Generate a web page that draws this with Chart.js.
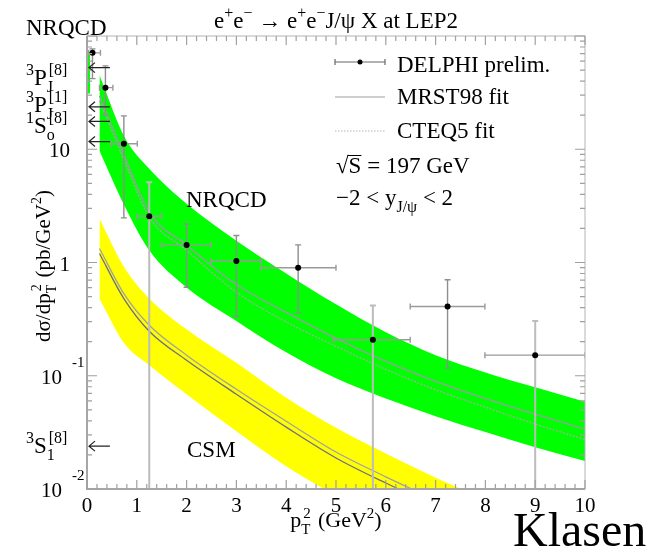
<!DOCTYPE html>
<html>
<head>
<meta charset="utf-8">
<script src="https://cdn.jsdelivr.net/npm/chart.js@4.4.1/dist/chart.umd.min.js"></script>
<style>
  html, body { margin: 0; padding: 0; background: #fff; }
  canvas { display: block; }
</style>
</head>
<body>
<canvas id="chart" width="656" height="551"></canvas>
<script>
const FONT = '"Liberation Serif", "Times New Roman", serif';

// --- DELPHI preliminary points ---
const delX   = [0.11, 0.37, 0.74, 1.25, 2.0, 3.0, 4.24, 5.74, 7.24, 9.0];
const delY   = [71, 35, 11.2, 2.56, 1.43, 1.03, 0.90, 0.208, 0.409, 0.152];
const delXLo = [0.03, 0.25, 0.48, 1.01, 1.5, 2.49, 3.49, 4.95, 6.49, 7.99];
const delXHi = [0.27, 0.52, 1.01, 1.5, 2.49, 3.5, 5.0, 6.49, 7.99, 10];
const delYLo = [42, 20, 2.48, 0.001, 0.605, 0.334, 0.357, 0.001, 0.117, 0.001];
const delYHi = [77, 54.5, 19.7, 5.1, 2.19, 1.73, 1.43, 0.418, 0.704, 0.304];

// --- theory curves (pT^2 grid) ---
const curveX  = [0.25, 0.75, 1.25, 2, 3, 4, 5, 6, 7, 8, 9, 10];
const nrqTop  = [45.3, 12.9, 6.73, 3.31, 1.56, 0.80, 0.427, 0.242, 0.152, 0.107, 0.079, 0.059];
const nrqBot  = [9.7, 3.18, 1.28, 0.603, 0.305, 0.161, 0.095, 0.063, 0.044, 0.0318, 0.0234, 0.0177];
const nrqMrst = [29.6, 8.76, 2.78, 1.43, 0.640, 0.363, 0.214, 0.134, 0.089, 0.0627, 0.0458, 0.0338];
const nrqCteq = [26.8, 7.92, 2.51, 1.28, 0.547, 0.299, 0.182, 0.114, 0.0753, 0.0528, 0.0374, 0.0274];
const csmTop  = [2.44, 0.904, 0.482, 0.257, 0.130, 0.064, 0.0348, 0.0206, 0.0126, 0.0081, 0.0053, 0.0035];
const csmBot  = [0.479, 0.193, 0.124, 0.0687, 0.0324, 0.0159, 0.0087, 0.0050, 0.0030, 0.0019, 0.0012, 0.0008];
const csmMrst = [1.33, 0.522, 0.279, 0.152, 0.076, 0.0397, 0.0212, 0.0128, 0.0080, 0.0051, 0.0033, 0.0022];
const csmCteq = [1.20, 0.472, 0.247, 0.137, 0.0687, 0.0352, 0.0188, 0.0113, 0.0071, 0.0045, 0.0030, 0.0020];

// first-bin NRQCD sliver at pT^2 ~ 0
const stripX   = [0, 0.06];
const stripTop = [69, 69];
const stripBot = [31, 31];

// NRQCD channel arrows on the left edge
const arrowVals = [52.6, 23.7, 17.6, 11.7, 0.0239];
const arrowFrom = 0.46, arrowTo = 0.04;

// axis ticks
const xTicks = [0, 1, 2, 3, 4, 5, 6, 7, 8, 9, 10];
const yDecades = [0.01, 0.1, 1, 10, 100];

const toXY = (xs, ys) => xs.map((x, i) => ({ x, y: ys[i] }));

// draw text with superscripts ('u'), subscripts ('d') and sub stacked under the next sup ('D')
function rich(ctx, parts, x, y, size, align) {
  const small = Math.round(size * 0.68);
  const items = [];
  let cx = 0, stack = null;
  for (const [t, k] of parts) {
    const fs = k === 'n' ? size : small;
    ctx.font = fs + 'px ' + FONT;
    const w = ctx.measureText(t).width;
    const dy = k === 'u' ? -0.42 * size : (k === 'n' ? 0 : 0.3 * size);
    if (k === 'D') { items.push({ t, fs, x: cx, dy }); stack = { x: cx, w }; continue; }
    if (stack && k === 'u') {
      items.push({ t, fs, x: stack.x + 2, dy });
      cx = stack.x + 2 + Math.max(w, stack.w);
      stack = null; continue;
    }
    if (stack) { cx = stack.x + stack.w; stack = null; }
    items.push({ t, fs, x: cx, dy });
    cx += w;
  }
  if (stack) cx = stack.x + stack.w;
  const x0 = align === 'center' ? x - cx / 2 : align === 'right' ? x - cx : x;
  ctx.textAlign = 'left';
  ctx.textBaseline = 'alphabetic';
  items.forEach(it => {
    ctx.font = it.fs + 'px ' + FONT;
    ctx.fillText(it.t, x0 + it.x, y + it.dy);
  });
  return cx;
}

// --- error bars, drawn just before the points ---
const errorBars = {
  id: 'errorBars',
  beforeDatasetDraw(chart, args) {
    if (args.index !== 0) return;
    const { ctx, chartArea: a, scales: { x, y } } = chart;
    ctx.save();
    ctx.beginPath();
    ctx.rect(a.left, a.top, a.right - a.left, a.bottom - a.top);
    ctx.clip();
    delX.forEach((xv, i) => {
      const px = x.getPixelForValue(xv), py = y.getPixelForValue(delY[i]);
      const xl = x.getPixelForValue(delXLo[i]), xr = x.getPixelForValue(delXHi[i]);
      const yt = y.getPixelForValue(delYHi[i]), yb = y.getPixelForValue(delYLo[i]);
      const long = delYLo[i] < y.min;
      ctx.strokeStyle = long ? '#bcbcbc' : '#8e8e8e';
      ctx.lineWidth = long ? 2 : 1.4;
      ctx.beginPath();
      ctx.moveTo(px, yt); ctx.lineTo(px, yb);
      ctx.moveTo(px - 3, yt); ctx.lineTo(px + 3, yt);
      if (!long) { ctx.moveTo(px - 3, yb); ctx.lineTo(px + 3, yb); }
      ctx.stroke();
      ctx.strokeStyle = '#9a9a9a';
      ctx.lineWidth = 1.4;
      ctx.beginPath();
      ctx.moveTo(xl, py); ctx.lineTo(xr, py);
      ctx.moveTo(xl, py - 3); ctx.lineTo(xl, py + 3);
      ctx.moveTo(xr, py - 3); ctx.lineTo(xr, py + 3);
      ctx.stroke();
    });
    ctx.restore();
  }
};

// --- ROOT-style frame, ticks and all text ---
const frame = {
  id: 'frame',
  afterDraw(chart) {
    const { ctx, chartArea: a, scales: { x, y } } = chart;
    ctx.save();

    // frame
    ctx.strokeStyle = '#b4b4b4';
    ctx.lineWidth = 1;
    ctx.strokeRect(a.left, a.top, a.right - a.left, a.bottom - a.top);
    ctx.strokeStyle = '#a6a6a6';
    ctx.lineWidth = 2;
    ctx.beginPath();
    ctx.moveTo(a.left, a.top); ctx.lineTo(a.left, a.bottom); ctx.lineTo(a.right, a.bottom);
    ctx.stroke();

    // x ticks (bottom up, top down), every 0.2
    ctx.lineWidth = 1.2;
    ctx.strokeStyle = '#a0a0a0';
    ctx.beginPath();
    for (let k = 0; k <= 50; k++) {
      const px = x.getPixelForValue(k * 0.2);
      const len = k % 5 === 0 ? 9 : 5;
      ctx.moveTo(px, a.bottom); ctx.lineTo(px, a.bottom - len);
      ctx.moveTo(px, a.top); ctx.lineTo(px, a.top + len);
    }
    // y ticks (left and right), log minors
    yDecades.forEach((d, j) => {
      for (let m = 1; m <= 9; m++) {
        const v = d * m;
        if (v > y.max * 1.0001 || (j === yDecades.length - 1 && m > 1)) continue;
        const py = y.getPixelForValue(v);
        const len = m === 1 ? 10 : 5;
        ctx.moveTo(a.left, py); ctx.lineTo(a.left + len, py);
        ctx.moveTo(a.right, py); ctx.lineTo(a.right - len, py);
      }
    });
    ctx.stroke();

    ctx.fillStyle = '#000';
    // x tick labels
    ctx.font = '21px ' + FONT;
    ctx.textAlign = 'center';
    ctx.textBaseline = 'alphabetic';
    xTicks.forEach(v => ctx.fillText(String(v), x.getPixelForValue(v), a.bottom + 23));

    // y tick labels
    yDecades.slice(0, 4).forEach(d => {
      const py = y.getPixelForValue(d);
      ctx.font = '21px ' + FONT;
      ctx.textAlign = 'right';
      if (d >= 1) {
        ctx.fillText(d === 1 ? '1' : '10', a.left - 17, py + 8);
      } else {
        ctx.fillText('10', a.left - 25, py + 8);
        ctx.font = '15px ' + FONT;
        ctx.textAlign = 'left';
        ctx.fillText('-' + Math.round(-Math.log10(d)), a.left - 15, py - 9);
      }
    });

    // axis titles
    rich(ctx, [['p', 'n'], ['T', 'D'], ['2', 'u'], [' (GeV', 'n'], ['2', 'u'], [')', 'n']],
      336, a.bottom + 38, 22, 'center');
    ctx.save();
    ctx.translate(43, 266);
    ctx.rotate(-Math.PI / 2);
    rich(ctx, [['dσ/dp', 'n'], ['T', 'D'], ['2', 'u'], [' (pb/GeV', 'n'], ['2', 'u'], [')', 'n']],
      0, 7, 21, 'center');
    ctx.restore();

    // title
    rich(ctx, [['e', 'n'], ['+', 'u'], ['e', 'n'], ['−', 'u'], [' → e', 'n'], ['+', 'u'], ['e', 'n'], ['−', 'u'],
      ['J/ψ X at LEP2', 'n']], 336, 28, 23, 'center');
    rich(ctx, [['NRQCD', 'n']], 26, 35, 23, 'left');

    // NRQCD channel arrows
    ctx.strokeStyle = '#222';
    ctx.lineWidth = 1.2;
    ctx.beginPath();
    arrowVals.forEach(v => {
      const py = y.getPixelForValue(v);
      const x1 = x.getPixelForValue(arrowFrom), x0 = x.getPixelForValue(arrowTo);
      ctx.moveTo(x1, py); ctx.lineTo(x0, py);
      ctx.moveTo(x0 + 6, py - 5); ctx.lineTo(x0, py); ctx.lineTo(x0 + 6, py + 5);
    });
    ctx.stroke();

    // channel labels
    rich(ctx, [['3', 'u'], ['P', 'n'], ['J', 'D'], ['[8]', 'u']], 26, 85, 23, 'left');
    rich(ctx, [['3', 'u'], ['P', 'n'], ['J', 'D'], ['[1]', 'u']], 26, 112, 23, 'left');
    rich(ctx, [['1', 'u'], ['S', 'n'], ['o', 'D'], ['[8]', 'u']], 26, 133, 23, 'left');
    rich(ctx, [['3', 'u'], ['S', 'n'], ['1', 'D'], ['[8]', 'u']], 26, 453, 23, 'left');

    // curve labels
    rich(ctx, [['NRQCD', 'n']], 186, 207, 23, 'left');
    rich(ctx, [['CSM', 'n']], 187, 457, 23, 'left');

    // legend
    const lx0 = 335, lx1 = 385;
    ctx.strokeStyle = '#666';
    ctx.lineWidth = 1.2;
    ctx.beginPath();
    ctx.moveTo(lx0, 62); ctx.lineTo(lx1, 62);
    ctx.moveTo(lx0, 59); ctx.lineTo(lx0, 65);
    ctx.moveTo(lx1, 59); ctx.lineTo(lx1, 65);
    ctx.stroke();
    ctx.beginPath(); ctx.arc(360, 62, 2.5, 0, Math.PI * 2); ctx.fill();
    ctx.strokeStyle = '#a0a0a0';
    ctx.beginPath(); ctx.moveTo(lx0, 97); ctx.lineTo(lx1, 97); ctx.stroke();
    ctx.strokeStyle = '#b4b4b4';
    ctx.setLineDash([1.5, 1.5]);
    ctx.beginPath(); ctx.moveTo(lx0, 131); ctx.lineTo(lx1, 131); ctx.stroke();
    ctx.setLineDash([]);
    rich(ctx, [['DELPHI prelim.', 'n']], 397, 72, 23, 'left');
    rich(ctx, [['MRST98 fit', 'n']], 397, 104, 23, 'left');
    rich(ctx, [['CTEQ5 fit', 'n']], 397, 138, 23, 'left');
    const rw = rich(ctx, [['√', 'n']], 336, 173, 23, 'left');
    ctx.font = '23px ' + FONT;
    const sw = ctx.measureText('S').width;
    ctx.strokeStyle = '#000';
    ctx.lineWidth = 1;
    ctx.beginPath(); ctx.moveTo(336 + rw - 1, 155.5); ctx.lineTo(336 + rw + sw, 155.5); ctx.stroke();
    rich(ctx, [['S = 197 GeV', 'n']], 336 + rw, 173, 23, 'left');
    rich(ctx, [['−2 < y', 'n'], ['J/ψ', 'd'], [' < 2', 'n']], 336, 205, 23, 'left');

    // signature
    ctx.font = '48px ' + FONT;
    ctx.textAlign = 'left';
    ctx.fillText('Klasen', 513, 546);
    ctx.restore();
  }
};

const band = (data, color, fill) => ({
  data, showLine: true, fill, backgroundColor: color, borderWidth: 0,
  cubicInterpolationMode: 'monotone', pointRadius: 0, order: 2, clip: 0
});
const curve = (data, color, dash) => ({
  data, showLine: true, fill: false, borderColor: color, borderWidth: 1.3,
  borderDash: dash, cubicInterpolationMode: 'monotone', pointRadius: 0, order: 1, clip: 0
});

new Chart(document.getElementById('chart'), {
  type: 'scatter',
  data: {
    datasets: [
      { label: 'DELPHI prelim.', data: toXY(delX, delY), pointRadius: 3, pointBackgroundColor: '#000',
        pointBorderWidth: 0, showLine: false, order: 0, clip: 0 },
      curve(toXY(curveX, nrqMrst), '#9c9ca8', []),
      curve(toXY(curveX, nrqCteq), '#a8a8a8', [2, 1.5]),
      curve(toXY(curveX, csmMrst), '#a2a2a2', []),
      curve(toXY(curveX, csmCteq), '#6e6e8a', []),
      band(toXY(curveX, nrqTop), '#00ff00', '+1'),
      band(toXY(curveX, nrqBot), '#00ff00', false),
      band(toXY(curveX, csmTop), '#ffff00', '+1'),
      band(toXY(curveX, csmBot), '#ffff00', false),
      band(toXY(stripX, stripTop), '#00ff00', '+1'),
      band(toXY(stripX, stripBot), '#00ff00', false)
    ]
  },
  options: {
    responsive: false,
    animation: false,
    layout: { padding: { left: 87, right: 71, top: 36, bottom: 62 } },
    scales: {
      x: { type: 'linear', min: 0, max: 10, display: false },
      y: { type: 'logarithmic', min: 0.01, max: 100, display: false }
    },
    plugins: { legend: { display: false }, tooltip: { enabled: false } }
  },
  plugins: [errorBars, frame]
});
</script>
</body>
</html>
